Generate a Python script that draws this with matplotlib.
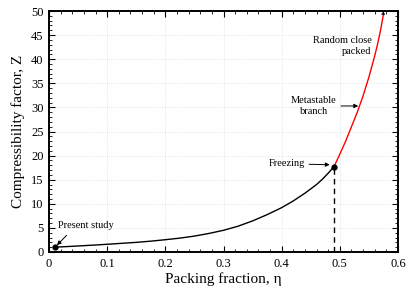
import matplotlib
matplotlib.use("Agg")
import matplotlib.pyplot as plt
from matplotlib.ticker import MultipleLocator, FuncFormatter

plt.rcParams['font.family'] = ['Liberation Serif', 'DejaVu Serif']

# Stable fluid branch (black)
eta_fluid = [0.01, 0.03, 0.05, 0.075, 0.10, 0.125, 0.15, 0.175, 0.20, 0.225, 0.25, 0.275,
             0.30, 0.325, 0.35, 0.375, 0.40, 0.42, 0.44, 0.45, 0.46, 0.47, 0.48, 0.49]
z_fluid = [1.0, 1.12, 1.25, 1.42, 1.6, 1.8, 2.0, 2.25, 2.55, 2.88, 3.3, 3.85,
           4.5, 5.35, 6.45, 7.75, 9.2, 10.6, 12.2, 13.1, 14.0, 15.1, 16.35, 17.7]
# Metastable branch (red)
eta_meta = [0.49, 0.50, 0.51, 0.52, 0.53, 0.54, 0.55, 0.56, 0.565, 0.57, 0.575]
z_meta = [17.7, 20.3, 23.0, 26.0, 29.0, 32.4, 36.3, 40.7, 43.2, 46.0, 49.3]
# Marked points
eta_present, z_present = 0.01, 1.0
eta_freeze, z_freeze = 0.49, 17.7

fig = plt.figure(figsize=(4.19, 2.93), dpi=100)
ax = fig.add_axes([49/419, 1-252/293, 349/419, 241/293])

ax.plot(eta_fluid, z_fluid, color='black', lw=1.0, zorder=3)
ax.plot(eta_meta, z_meta, color='red', lw=1.0, zorder=3)
ax.plot([eta_freeze, eta_freeze], [0, z_freeze], color='black', lw=1.0, ls=(0, (4, 3)), zorder=2)
ax.plot([eta_present, eta_freeze], [z_present, z_freeze], 'o', color='black', ms=3.5, zorder=4)

ax.annotate('', xy=(eta_meta[-1] + 0.0004, 50.0), xytext=(eta_meta[-2], z_meta[-2]),
            arrowprops=dict(arrowstyle='-|>', color='black', lw=0.0, mutation_scale=7, shrinkA=0, shrinkB=0))

ak = dict(arrowstyle='-|>', color='black', lw=0.7, mutation_scale=6, shrinkA=1, shrinkB=1)
fs = 7.5
ax.text(0.555, 42.7, 'Random close\npacked', ha='right', va='center', fontsize=fs, linespacing=1.25)
ax.annotate('Metastable\nbranch', xy=(0.534, 30.3), xytext=(0.4556, 30.3), ha='center', va='center',
            fontsize=fs, linespacing=1.25, arrowprops=ak)
ax.annotate('Freezing', xy=(0.485, 18.1), xytext=(0.44, 18.3), ha='right', va='center',
            fontsize=fs, arrowprops=ak)
ax.annotate('Present study', xy=(0.012, 1.2), xytext=(0.016, 5.6), ha='left', va='center',
            fontsize=fs, arrowprops=dict(arrowstyle='-|>', color='black', lw=0.7, mutation_scale=6,
                                         shrinkA=3, shrinkB=1, relpos=(0.25, 0.0)))

ax.set_xlim(0, 0.6)
ax.set_ylim(0, 50)
ax.xaxis.set_major_locator(MultipleLocator(0.1))
ax.xaxis.set_minor_locator(MultipleLocator(0.02))
ax.yaxis.set_major_locator(MultipleLocator(5))
ax.yaxis.set_minor_locator(MultipleLocator(1))
ax.xaxis.set_major_formatter(FuncFormatter(lambda v, p: '0' if abs(v) < 1e-9 else f'{v:.1f}'))
ax.tick_params(which='both', direction='in', top=True, right=True, labelsize=9, color='black')
ax.tick_params(which='major', length=4, width=0.8, pad=4)
ax.tick_params(which='minor', length=2, width=0.6)
for s in ax.spines.values():
    s.set_linewidth(1.4)
ax.grid(True, which='major', color='#dddddd', lw=0.6, ls=':')
ax.set_axisbelow(True)

ax.set_xlabel('Packing fraction, η', fontsize=11, labelpad=2)
ax.set_ylabel('Compressibility factor, Z', fontsize=11, labelpad=4)

fig.savefig('out.png', dpi=100)
